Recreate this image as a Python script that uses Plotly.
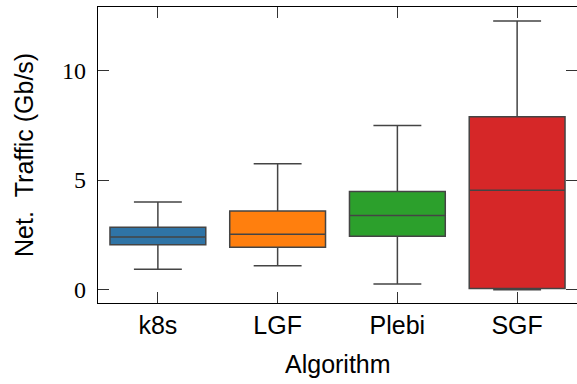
import plotly.graph_objects as go

# Network traffic summary per scheduling algorithm (Gb/s)
algorithms = ["k8s", "LGF", "Plebi", "SGF"]
lower_whisker = [0.94, 1.10, 0.26, 0.00]
q1_values = [2.05, 1.94, 2.44, 0.06]
medians = [2.41, 2.53, 3.38, 4.53]
q3_values = [2.85, 3.59, 4.48, 7.88]
upper_whisker = [4.00, 5.74, 7.48, 12.24]
box_colors = ["#2f74a6", "#ff7f0e", "#2ca02c", "#d62728"]
y_ticks = [0, 5, 10]
y_range = [-0.6, 12.88]

SANS = "Liberation Sans, Arial, sans-serif"
SERIF = "Liberation Serif, Times New Roman, serif"

fig = go.Figure()
for i, name in enumerate(algorithms):
    fig.add_trace(go.Box(
        x=[name],
        q1=[q1_values[i]],
        median=[medians[i]],
        q3=[q3_values[i]],
        lowerfence=[lower_whisker[i]],
        upperfence=[upper_whisker[i]],
        boxpoints=False,
        fillcolor=box_colors[i],
        line=dict(color="#444444", width=1.5),
        width=0.8,
        whiskerwidth=0.5,
        showlegend=False,
        name=name,
    ))

# empty trace so the right-hand tick axis gets rendered
fig.add_trace(go.Scatter(x=[], y=[], yaxis="y2", showlegend=False, hoverinfo="skip"))

fig.update_layout(
    width=577,
    height=384,
    margin=dict(l=98, r=0, t=7, b=81),
    paper_bgcolor="white",
    plot_bgcolor="white",
    boxmode="overlay",
    font=dict(family=SANS, size=25, color="black"),
    # right-hand ticks only, without a right spine
    yaxis2=dict(
        overlaying="y",
        side="right",
        range=y_range,
        tickvals=y_ticks,
        showticklabels=False,
        showgrid=False,
        zeroline=False,
        showline=False,
        ticks="inside",
        ticklen=11,
        tickwidth=1,
        tickcolor="#333333",
    ),
)

fig.update_xaxes(
    type="category",
    categoryorder="array",
    categoryarray=algorithms,
    range=[-0.5, 3.5],
    showgrid=False,
    zeroline=False,
    showline=True,
    linecolor="black",
    linewidth=1.3,
    mirror="ticks",
    ticks="inside",
    ticklen=11,
    tickwidth=1,
    tickcolor="#333333",
    tickfont=dict(family=SANS, size=25),
)

fig.update_layout(yaxis=dict(
    range=y_range,
    tickvals=y_ticks,
    ticktext=[str(v) for v in y_ticks],
    showgrid=False,
    zeroline=False,
    showline=True,
    linecolor="black",
    linewidth=1.3,
    mirror=False,
    ticks="inside",
    ticklen=11,
    tickwidth=1,
    tickcolor="#333333",
    ticklabelstandoff=6,
    tickfont=dict(family=SERIF, size=24),
))

# Axis titles
fig.add_annotation(
    text="Algorithm",
    xref="paper", yref="paper",
    x=0.5, y=(303 - 364) / 296,
    xanchor="center", yanchor="middle",
    showarrow=False,
    font=dict(family=SANS, size=25),
)
fig.add_annotation(
    text="Net.\u00a0\u00a0Traffic (Gb/s)",
    xref="paper", yref="paper",
    x=(24 - 98) / 479, y=0.5,
    xanchor="center", yanchor="middle",
    textangle=-90,
    showarrow=False,
    font=dict(family=SANS, size=25),
)

fig.write_html("out.html")
